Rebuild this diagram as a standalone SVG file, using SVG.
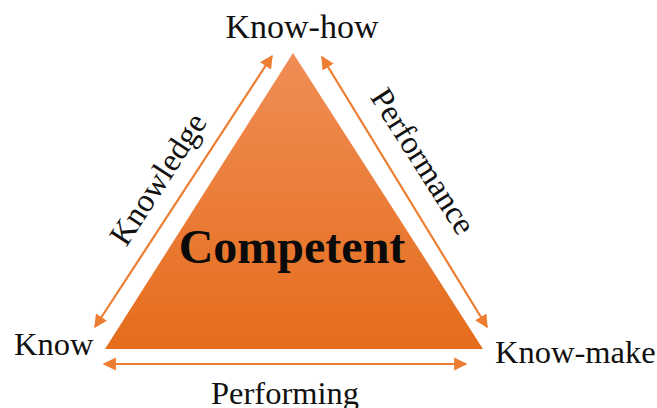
<svg xmlns="http://www.w3.org/2000/svg" width="657" height="408" viewBox="0 0 657 408">
  <defs>
    <linearGradient id="fillGrad" x1="0" y1="0" x2="0" y2="1">
      <stop offset="0" stop-color="#f08d55"/>
      <stop offset="1" stop-color="#e56d1c"/>
    </linearGradient>
    <marker id="head" viewBox="0 0 10 10" refX="9" refY="5" markerWidth="6" markerHeight="6" markerUnits="strokeWidth" orient="auto-start-reverse">
      <path d="M0,0 L10,5 L0,10 Z" fill="#ed7d31"/>
    </marker>
    <style>
      .lbl { font-family: "Liberation Serif", "Times New Roman", serif; font-size: 32.5px; fill: #111; }
      .core { font-family: "Liberation Serif", "Times New Roman", serif; font-size: 48px; font-weight: bold; fill: #0a0a0a; }
      .conn { stroke: #ed7d31; stroke-width: 2.2; fill: none; marker-start: url(#head); marker-end: url(#head); }
    </style>
  </defs>
  <rect width="657" height="408" fill="#ffffff"/>

  <!-- central triangle -->
  <g id="competent">
    <polygon points="293,53 105,349 483,349" fill="url(#fillGrad)"/>
    <text class="core" x="292" y="263" text-anchor="middle">Competent</text>
  </g>

  <!-- corner labels -->
  <g id="know-how">
    <text class="lbl" x="302" y="38" text-anchor="middle" style="font-size:34px">Know-how</text>
  </g>
  <g id="know">
    <text class="lbl" x="14" y="355">Know</text>
  </g>
  <g id="know-make">
    <text class="lbl" x="495" y="363">Know-make</text>
  </g>

  <!-- double-headed connectors along the sides -->
  <g id="connectors">
    <line class="conn" x1="95" y1="327" x2="272" y2="56"/>
    <line class="conn" x1="322" y1="57" x2="487" y2="327"/>
    <line class="conn" x1="104" y1="364" x2="466" y2="364"/>
  </g>

  <!-- side labels -->
  <g id="knowledge">
    <text class="lbl" x="0" y="0" text-anchor="middle" transform="translate(167,185) rotate(-57)">Knowledge</text>
  </g>
  <g id="performance">
    <text class="lbl" x="0" y="0" text-anchor="middle" transform="translate(414,167) rotate(57.5)">Performance</text>
  </g>
  <g id="performing">
    <text class="lbl" x="285" y="404" text-anchor="middle">Performing</text>
  </g>
</svg>
